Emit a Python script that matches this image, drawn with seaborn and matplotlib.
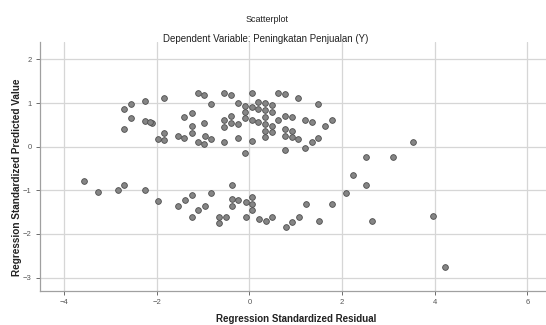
import numpy as np
import pandas as pd
import matplotlib
matplotlib.use("Agg")
import matplotlib.pyplot as plt
import seaborn as sns

# residual (x) / predicted value (y)
resid = [
    -2.70, -2.56, -2.26, -1.84, -2.56, -2.26, -2.11, -2.70, -1.98, -1.84,
    -1.84, -1.55, -1.41, -1.25, -1.25, -1.41, -1.25, -1.12, -0.98, -0.82,
    -0.98, -1.12, -0.98, -0.97, -0.82, -2.15,
    -0.54, -0.40, 0.05, 0.62, 0.77, 1.05,
    -0.24, -0.10, 0.05, 0.19, 0.33, 0.48,
    0.19, 0.33, 0.48, -0.10, -0.39,
    -0.54, -0.39, -0.24, -0.10, 0.05, 0.19, 0.33, 0.33, 0.48, 0.62, 0.77, 0.91, 1.20, 1.34,
    -0.54, 0.33, 0.48, 0.77, 0.91, 0.33, 0.77, 0.91, 1.05, 1.34, 1.49,
    -0.54, -0.24, 0.05, 1.20, 0.77, -0.10,
    1.49, 1.63, 1.78,
    -3.57, -3.27, -2.83, -2.70, -2.26, -1.98, -1.54, -1.39, -1.25, -0.82,
    -0.96, -1.11, -1.24, -0.38, -0.38, -0.38, -0.66, -0.51, -0.66, -0.24,
    -0.08, 0.06, 0.06, 0.06, -0.08, 0.21, 0.35, 0.49, 0.78, 0.92,
    1.07, 1.21, 1.50, 1.79, 2.08, 2.24, 2.51, 2.65, 3.52, 2.51,
    3.09, 3.97, 4.22,
]
pred = [
    0.87, 0.98, 1.05, 1.11, 0.66, 0.59, 0.55, 0.40, 0.18, 0.15,
    0.32, 0.24, 0.19, 0.31, 0.47, 0.67, 0.78, 1.22, 1.18, 0.98,
    0.55, 0.11, 0.06, 0.24, 0.18, 0.56,
    1.24, 1.18, 1.24, 1.24, 1.20, 1.11,
    0.99, 0.94, 0.90, 1.03, 0.99, 0.95,
    0.86, 0.84, 0.80, 0.79, 0.71,
    0.61, 0.55, 0.52, 0.65, 0.61, 0.56, 0.67, 0.52, 0.48, 0.60, 0.71, 0.67, 0.61, 0.57,
    0.44, 0.37, 0.33, 0.41, 0.37, 0.22, 0.25, 0.22, 0.18, 0.10, 0.19,
    0.10, 0.19, 0.14, -0.02, -0.08, -0.15,
    0.98, 0.48, 0.60,
    -0.78, -1.03, -0.99, -0.88, -0.99, -1.24, -1.35, -1.22, -1.10, -1.07,
    -1.35, -1.46, -1.60, -0.88, -1.20, -1.35, -1.60, -1.62, -1.75, -1.22,
    -1.27, -1.16, -1.31, -1.46, -1.60, -1.65, -1.70, -1.60, -1.83, -1.72,
    -1.60, -1.31, -1.70, -1.31, -1.07, -0.65, -0.88, -1.70, 0.10, -0.24,
    -0.24, -1.59, -2.76,
]
x_ticks = [-4, -2, 0, 2, 4, 6]
y_ticks = [-3, -2, -1, 0, 1, 2]

df = pd.DataFrame({"resid": resid, "pred": pred})

sns.set_theme(style="white")
plt.rcParams["font.family"] = ["Liberation Sans", "DejaVu Sans"]

fig = plt.figure(figsize=(5.46, 3.25), dpi=100)
ax = fig.add_axes([0.0733, 0.1055, 0.9267, 0.7655])

sns.scatterplot(
    data=df, x="resid", y="pred", ax=ax,
    s=17, color="#858585", edgecolor="#4d4d4d", linewidth=0.6, zorder=3
)

ax.set_xlim(-4.52, 6.40)
ax.set_ylim(-3.30, 2.40)
ax.set_xticks(x_ticks)
ax.set_yticks(y_ticks)
ax.grid(True, color="#d6d6d6", linewidth=0.9)
ax.set_axisbelow(True)

for side in ["top", "right"]:
    ax.spines[side].set_visible(False)
for side in ["left", "bottom"]:
    ax.spines[side].set_color("#a0a0a0")
    ax.spines[side].set_linewidth(0.9)

ax.tick_params(axis="both", labelsize=5.5, colors="#555555", length=3,
               width=0.6, pad=3, direction="out")
ax.tick_params(left=True, bottom=True)
ax.set(xlabel=None, ylabel=None)

fig.text(0.49, 0.9415, "Scatterplot", ha="center", va="center",
         fontsize=6.5, color="#222222")
fig.text(0.487, 0.88, "Dependent Variable: Peningkatan Penjualan (Y)",
         ha="center", va="center", fontsize=7, color="#222222")
fig.text(0.542, 0.018, "Regression Standardized Residual", ha="center",
         va="center", fontsize=7, fontweight="bold", color="#222222")
fig.text(0.031, 0.455, "Regression Standardized Predicted Value", ha="center",
         va="center", rotation=90, fontsize=7.2, fontweight="bold",
         color="#222222")

fig.savefig("out.png", dpi=100)
plt.close(fig)
